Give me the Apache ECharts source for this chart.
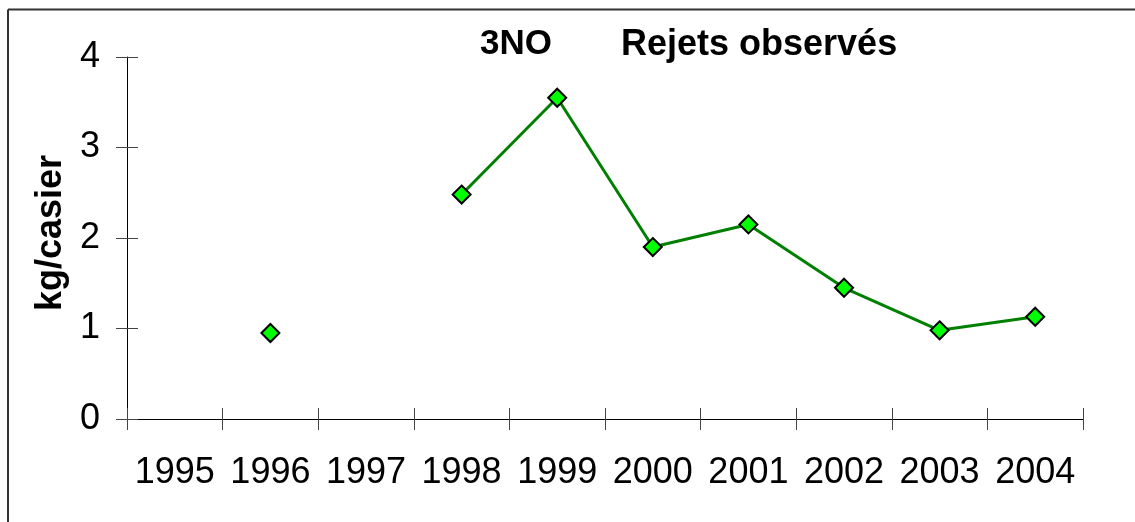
<!DOCTYPE html>
<html>
<head>
<meta charset="utf-8">
<script src="https://cdn.jsdelivr.net/npm/echarts@6/dist/echarts.min.js"></script>
<style>
html,body{margin:0;padding:0;background:#fff;}
#chart{width:1135px;height:522px;}
</style>
</head>
<body>
<div id="chart"></div>
<script>
var categories = ['1995','1996','1997','1998','1999','2000','2001','2002','2003','2004'];
var rejets = [null, 0.95, null, 2.48, 3.55, 1.90, 2.15, 1.45, 0.98, 1.13];
var yTicks = [0, 1, 2, 3, 4];
var titleLeft = '3NO';
var titleRight = 'Rejets observés';
var yName = 'kg/casier';

var FONT = '"Liberation Sans", Arial, sans-serif';
var chart = echarts.init(document.getElementById('chart'), null, {renderer: 'canvas'});
chart.setOption({
  animation: false,
  backgroundColor: '#fff',
  title: [
    {text: titleLeft, left: 475, top: 22, textStyle: {fontFamily: FONT, fontSize: 35, fontWeight: 'bold', color: '#000'}},
    {text: titleRight, left: 616, top: 22, textStyle: {fontFamily: FONT, fontSize: 36, fontWeight: 'bold', color: '#000'}}
  ],
  graphic: [
    {type: 'line', shape: {x1: 8, y1: 9.5, x2: 1135, y2: 9.5}, style: {stroke: '#333', lineWidth: 2}},
    {type: 'line', shape: {x1: 8, y1: 9.5, x2: 8, y2: 522}, style: {stroke: '#333', lineWidth: 2}}
  ],
  grid: {left: 127, right: 52, top: 57, bottom: 103},
  xAxis: [
    {
      type: 'category', data: categories, position: 'bottom', boundaryGap: true,
      axisLine: {lineStyle: {color: '#000', width: 1}},
      axisTick: {show: true, inside: false, length: 11, lineStyle: {color: '#444'}},
      axisLabel: {fontFamily: FONT, fontSize: 36, color: '#000', margin: 36, interval: 0},
      splitLine: {show: false}
    },
    {
      type: 'category', data: categories, position: 'bottom', boundaryGap: true,
      axisLine: {show: false},
      axisTick: {show: true, inside: true, length: 11, lineStyle: {color: '#444'}},
      axisLabel: {show: false},
      splitLine: {show: false}
    }
  ],
  yAxis: [
    {
      type: 'value', min: yTicks[0], max: yTicks[yTicks.length - 1], interval: 1, position: 'left',
      name: yName, nameLocation: 'middle', nameRotate: 90, nameGap: 55,
      nameTextStyle: {fontFamily: FONT, fontSize: 36, fontWeight: 'bold', color: '#000', padding: [0, 0, 0, 10]},
      axisLine: {show: true, lineStyle: {color: '#000', width: 1}},
      axisTick: {show: true, inside: false, length: 11, lineStyle: {color: '#444'}},
      axisLabel: {fontFamily: FONT, fontSize: 36, color: '#000', margin: 27},
      splitLine: {show: false}
    },
    {
      type: 'value', min: yTicks[0], max: yTicks[yTicks.length - 1], interval: 1, position: 'left',
      axisLine: {show: false},
      axisTick: {show: true, inside: true, length: 11, lineStyle: {color: '#444'}},
      axisLabel: {show: false},
      splitLine: {show: false}
    }
  ],
  series: [{
    type: 'line', data: rejets, xAxisIndex: 0, yAxisIndex: 0,
    connectNulls: false,
    symbol: 'diamond', symbolSize: 18,
    lineStyle: {color: '#008000', width: 3},
    itemStyle: {color: '#00ff00', borderColor: '#000', borderWidth: 2},
    z: 5
  }]
});
</script>
</body>
</html>
